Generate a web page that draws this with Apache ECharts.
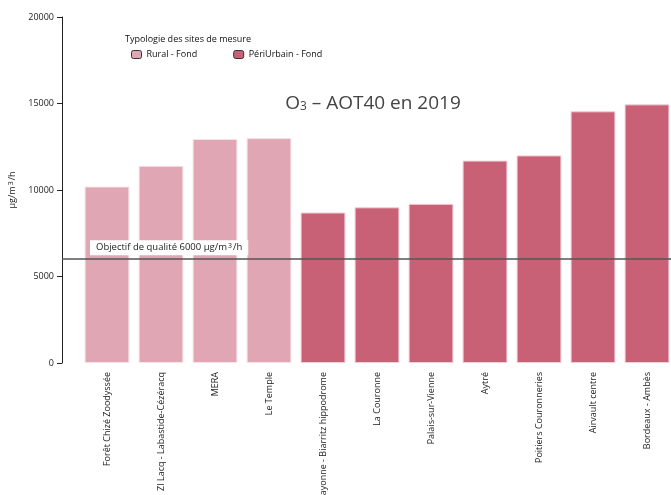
<!DOCTYPE html>
<html>
<head>
<meta charset="utf-8">
<script src="https://cdn.jsdelivr.net/npm/echarts@6/dist/echarts.min.js"></script>
<style>
  html, body { margin: 0; padding: 0; background: #fff; }
  #chart { width: 671px; height: 495px; }
</style>
</head>
<body>
<div id="chart"></div>
<script>
// sites de mesure
const sites = [
  'Forêt Chizé Zoodyssée', 'ZI Lacq - Labastide-Cézéracq', 'MERA', 'Le Temple',
  'Bayonne - Biarritz hippodrome', 'La Couronne', 'Palais-sur-Vienne', 'Aytré',
  'Poitiers Couronneries', 'Airvault centre', 'Bordeaux - Ambès'
]
const rural = [10200, 11400, 12950, 13000, '-', '-', '-', '-', '-', '-', '-']
const periUrbain = ['-', '-', '-', '-', 8700, 9000, 9200, 11700, 12000, 14550, 14950]
const objectif = 6000
const yTicks = { min: 0, max: 20000, interval: 5000 }

const font = '"Open Sans", "Noto Sans", sans-serif'
const supStyle = { fontSize: 7, verticalAlign: 'top', padding: [0, 1, 4, 1] }
const chart = echarts.init(document.getElementById('chart'))

const option = {
  animation: false,
  textStyle: { fontFamily: font },
  title: [
    {
      text: '{o|O}{s|3}{o| – AOT40 en 2019}',
      left: 368,
      top: 89,
      textAlign: 'center',
      textStyle: {
        fontWeight: 'normal',
        rich: {
          o: { fontSize: 19, color: '#444', fontFamily: font, fontWeight: 'normal' },
          s: { fontSize: 12, color: '#444', fontFamily: font, fontWeight: 'normal', verticalAlign: 'bottom', padding: [7, 0, 0, 0] },
        },
      },
    },
    {
      text: 'Typologie des sites de mesure',
      left: 120,
      top: 30,
      textStyle: { fontSize: 9, fontWeight: 'normal', color: '#111', fontFamily: font },
    },
  ],
  legend: {
    left: 126,
    top: 45,
    itemWidth: 10,
    itemHeight: 8,
    itemGap: 36,
    textStyle: { fontSize: 9, color: '#111', fontFamily: font },
    data: [
      { name: 'Rural - Fond', itemStyle: { borderColor: '#333', borderWidth: 1 } },
      { name: 'PériUrbain - Fond', itemStyle: { borderColor: '#333', borderWidth: 1 } },
    ],
  },
  grid: [
    { left: 80, right: -3, top: 17, bottom: 132, outerBoundsMode: 'none', containLabel: false },
    { left: 62, right: 0, top: 17, bottom: 132, outerBoundsMode: 'none', containLabel: false },
  ],
  xAxis: [
    {
      type: 'category',
      gridIndex: 0,
      data: sites,
      axisLine: { show: false },
      axisTick: { show: false },
      axisLabel: { rotate: 90, fontSize: 9, color: '#222', margin: 9, interval: 0 },
    },
    { type: 'value', gridIndex: 1, min: 0, max: 1, show: false },
  ],
  yAxis: [
    {
      type: 'value',
      gridIndex: 0,
      ...yTicks,
      offset: 18,
      name: 'µg/m{sup|3}/h',
      nameLocation: 'middle',
      nameGap: 38,
      nameTextStyle: { fontSize: 9, color: '#222', rich: { sup: supStyle } },
      axisLine: { show: true, lineStyle: { color: '#222', width: 1 } },
      axisTick: { show: true, length: 5, lineStyle: { color: '#222' } },
      axisLabel: { fontSize: 9, color: '#222', margin: 8, formatter: v => String(v) },
      splitLine: { show: false },
    },
    { type: 'value', gridIndex: 1, ...yTicks, show: false },
  ],
  series: [
    {
      name: 'Rural - Fond',
      type: 'bar',
      stack: 'all',
      barCategoryGap: '17%',
      data: rural,
      itemStyle: { color: '#e1a6b3', borderColor: '#f6e4e8', borderWidth: 1 },
    },
    {
      name: 'PériUrbain - Fond',
      type: 'bar',
      stack: 'all',
      data: periUrbain,
      itemStyle: { color: '#c96176', borderColor: '#f0cfd6', borderWidth: 1 },
    },
    {
      type: 'line',
      xAxisIndex: 1,
      yAxisIndex: 1,
      data: [],
      silent: true,
      markLine: {
        symbol: 'none',
        silent: true,
        lineStyle: { color: '#555', width: 1.5, type: 'solid' },
        label: {
          position: 'insideStartTop',
          distance: [28, 4],
          formatter: 'Objectif de qualité 6000 µg/m{sup|3}/h',
          backgroundColor: '#fff',
          padding: [2, 6, 2, 6],
          fontSize: 9.5,
          color: '#222',
          rich: { sup: supStyle },
        },
        data: [{ yAxis: objectif }],
      },
    },
  ],
}

chart.setOption(option)
</script>
</body>
</html>
